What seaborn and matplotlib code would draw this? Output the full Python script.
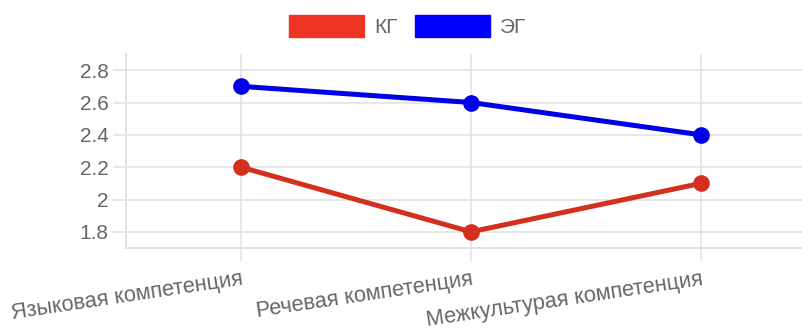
import matplotlib
matplotlib.use("Agg")
import matplotlib.pyplot as plt
from matplotlib.patches import Patch
import seaborn as sns
import pandas as pd

categories = ["Языковая компетенция", "Речевая компетенция", "Межкультурая компетенция"]
series_names = ["КГ", "ЭГ"]
kg_values = [2.2, 1.8, 2.1]
eg_values = [2.7, 2.6, 2.4]
y_ticks = [1.8, 2.0, 2.2, 2.4, 2.6, 2.8]
y_tick_labels = ["1.8", "2", "2.2", "2.4", "2.6", "2.8"]

line_colors = {"КГ": "#d3301f", "ЭГ": "#0000e6"}
legend_fill = {"КГ": "#ee3524", "ЭГ": "#0000ff"}

df = pd.DataFrame({
    "cat": categories * 2,
    "pos": list(range(len(categories))) * 2,
    "val": kg_values + eg_values,
    "group": [series_names[0]] * 3 + [series_names[1]] * 3,
})

sns.set_theme(style="white")
plt.rcParams["font.family"] = ["Liberation Sans", "DejaVu Sans"]

grey = "#e3e3e3"
txt = "#666666"

fig = plt.figure(figsize=(8.03, 3.34), dpi=100)
ax = fig.add_axes([126 / 803, 86 / 334, 690 / 803, 194 / 334])

sns.lineplot(data=df, x="pos", y="val", hue="group", palette=line_colors,
             marker="o", markersize=12, markeredgewidth=0, linewidth=3.6,
             sort=False, legend=False, ax=ax)

ax.set_xlim(-0.5, 2.5)
ax.set_ylim(1.7, 2.9)
ax.set_yticks(y_ticks)
ax.set_yticklabels(y_tick_labels)
ax.set_xticks(range(len(categories)))
ax.set_xticklabels(categories, rotation=8.5, ha="right", va="top", rotation_mode="anchor")
ax.set_xlabel("")
ax.set_ylabel("")

ax.grid(True, color=grey, linewidth=1.2)
ax.set_axisbelow(True)
for s in ["top", "right"]:
    ax.spines[s].set_visible(False)
for s in ["left", "bottom"]:
    ax.spines[s].set_color(grey)
    ax.spines[s].set_linewidth(1.4)

ax.tick_params(axis="both", which="major", length=9.5, width=1.2, color=grey,
               labelcolor=txt, labelsize=15, pad=3, left=True, bottom=True)
ax.tick_params(axis="x", labelsize=15.7, pad=5.5)

handles = [Patch(facecolor=legend_fill[n], edgecolor=legend_fill[n], label=n) for n in series_names]
leg = fig.legend(handles=handles, loc="center", bbox_to_anchor=(408 / 803, 1 - 26 / 334),
                 ncol=2, frameon=False, fontsize=15, handlelength=3.6, handleheight=1.25,
                 handletextpad=0.5, columnspacing=0.8, labelcolor=txt)

fig.savefig("out.png", dpi=100)
